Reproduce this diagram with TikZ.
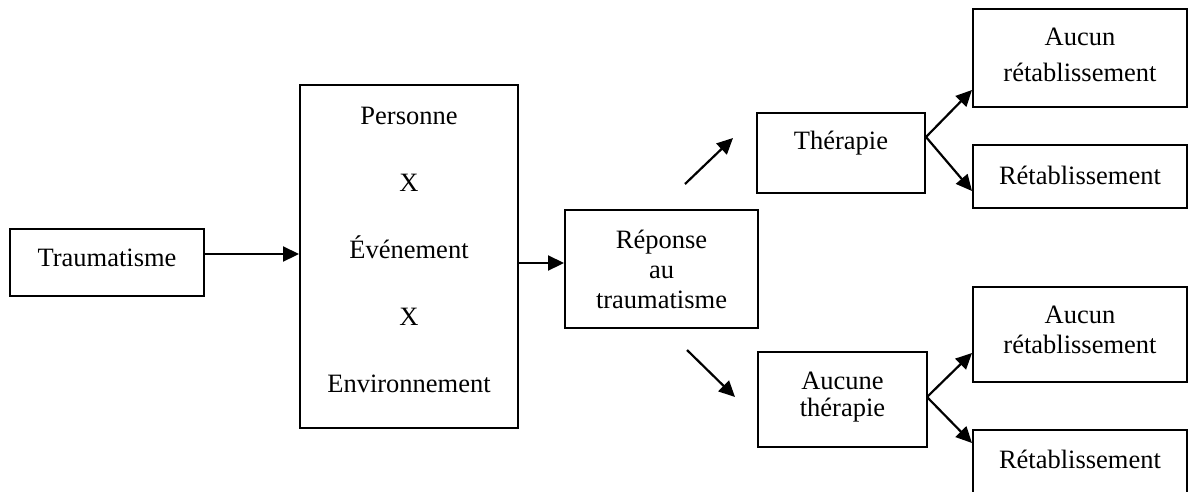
\documentclass[tikz,border=0pt]{standalone}
\usepackage{fontspec}
\setmainfont{Liberation Serif}
\usetikzlibrary{arrows.meta}
\begin{document}
\begin{tikzpicture}[x=1pt,y=-1pt,
  box/.style={draw,line width=2pt,inner sep=0pt,minimum width=#1},
  lbl/.style={align=center,inner sep=0pt,font=\fontsize{26.5}{30}\selectfont},
  arr/.style={line width=2.2pt,-{Triangle[length=16pt,width=15pt]}}]
\useasboundingbox (0,0) rectangle (1191,491);
\begin{scope}
\clip (0,0) rectangle (1191,491);
% boxes
\node[box=194,minimum height=67] (trauma) at (107,262.5) {};
\node[box=218,minimum height=343] (pex) at (409,256.5) {};
\node[box=193,minimum height=118] (rep) at (661.5,269) {};
\node[box=168,minimum height=80] (ther) at (841,153) {};
\node[box=169,minimum height=95] (noth) at (842.5,399.5) {};
\node[box=214,minimum height=98] (nr1) at (1080,58) {};
\node[box=214,minimum height=63] (r1) at (1080,176.5) {};
\node[box=214,minimum height=95] (nr2) at (1080,334.5) {};
\node[box=214,minimum height=100] (r2) at (1080,480) {};
% texts
\node[lbl] (trauma-t) at (107,258) {Traumatisme};
\node[lbl,font=\fontsize{26.5}{67}\selectfont] (pex-t) at (409,250) {Personne\\X\\Événement\\X\\Environnement};
\node[lbl] (rep-t) at (661.5,269) {Réponse\\au\\traumatisme};
\node[lbl] (ther-t) at (841,143) {Thérapie};
\node[lbl,font=\fontsize{26.5}{27}\selectfont] (noth-t) at (842.5,397) {Aucune\\thérapie};
\node[lbl,font=\fontsize{26.5}{36}\selectfont] (nr1-t) at (1080,55) {Aucun\\rétablissement};
\node[lbl] (r1-t) at (1080,175) {Rétablissement};
\node[lbl] (nr2-t) at (1080,330) {Aucun\\rétablissement};
\node[lbl] (r2-t) at (1080,459) {Rétablissement};
\end{scope}
% connectors
\coordinate (up0) at (685,184);
\coordinate (up1) at (733,138);
\coordinate (dn0) at (687,350);
\coordinate (dn1) at (735,397);
\coordinate (f1) at (926,137);
\coordinate (f2) at (927,397);
\draw[arr] (trauma.east |- 0,254) -- (pex.west |- 0,254);
\draw[arr] (pex.east |- 0,263) -- (rep.west |- 0,263);
\draw[arr] (up0) -- (up1);
\draw[arr] (dn0) -- (dn1);
\draw[arr] (f1) -- (nr1.west |- 0,90);
\draw[arr] (f1) -- (r1.west |- 0,191);
\draw[arr] (f2) -- (nr2.west |- 0,353);
\draw[arr] (f2) -- (r2.west |- 0,443);
\end{tikzpicture}
\end{document}
